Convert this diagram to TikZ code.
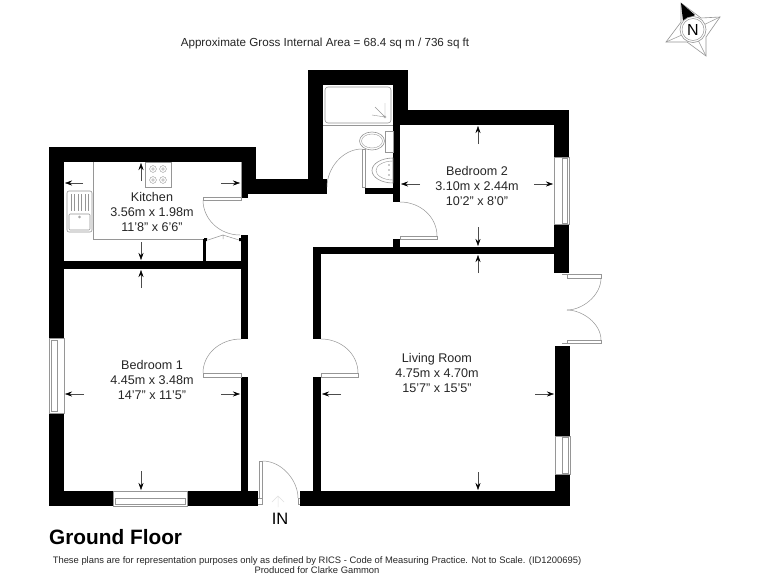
\documentclass[tikz,border=0pt]{standalone}
\usepackage{fontspec}
\setmainfont{Liberation Sans}
\usetikzlibrary{arrows.meta}
\definecolor{planline}{RGB}{150,150,150}
\tikzset{
  wall/.style={fill=black, draw=none},
  fitting/.style={draw=planline, line width=0.6pt},
  swing/.style={draw=planline, line width=0.5pt},
  leaf/.style={draw=planline, fill=white, line width=0.6pt},
  dimline/.style={draw=black!70, line width=0.4pt, -{Stealth[length=7pt,width=5pt,black]}},
  roomlabel/.style={align=center, font=\fontsize{12.6}{15.4}\selectfont, text=black!85, inner sep=0pt},
  noteline/.style={font=\fontsize{9.4}{11}\selectfont, text=black!85, inner sep=0pt}
}
\begin{document}
\begin{tikzpicture}[x=1pt, y=-1pt]
\useasboundingbox[fill=white] (0,0) rectangle (768,576);
% walls
\foreach \xa/\ya/\xb/\yb in {49/147/256/162, 49/147/64/338, 49/413/64/506, 49/491/113/506, 187/491/258/506, 300/491/570/506,
  64/261/248/269, 241/147/256/194, 241/194/248/198, 241/179/327/194, 241/235/248/339, 241/377/248/491, 203/239/206/261,
  308/70/323/194, 308/70/408/85, 393/70/408/125, 393/110/569/125, 554/110/569/157, 554/224/569/273,
  365/188/400/194, 393/110/400/202, 393/239/400/247, 313/247/554/254, 313/247/321/339, 313/377/321/491,
  555/346/570/436, 555/474/570/506}
  \fill[wall] (\xa,\ya) rectangle (\xb,\yb);
% windows
\draw[fitting] (554,157) rectangle (569,224);
\draw[fitting] (562,158) rectangle (567,223);
\draw[fitting] (555,436) rectangle (570,474);
\draw[fitting] (562,437) rectangle (568,473);
\draw[fitting] (49,338) rectangle (64,413);
\draw[fitting] (51,340) rectangle (57,411);
\draw[fitting] (113,491) rectangle (187,506);
\draw[fitting] (115,498) rectangle (185,504);
% kitchen
\draw[fitting] (93,162) -- (93,239) -- (203,239);
\draw[fitting] (241,162) -- (241,197);
\draw[fitting] (145,162) rectangle (171,187);
\foreach \cx/\cy in {153/169, 163/169, 153/180, 163/180} {
  \draw[fitting, line width=0.4pt] (\cx,\cy) circle (3.4pt);
  \draw[fitting, line width=0.4pt] (\cx,\cy) circle (1.4pt);
}
\draw[fitting, rounded corners=2pt] (67,191) rectangle (92,232);
\draw[fitting, rounded corners=1pt] (69,214) rectangle (90,230);
\foreach \lx in {71,74.5,78,81.5,85,88.5}
  \draw[fitting, line width=0.4pt] (\lx,194) -- (\lx,211);
\draw[fitting, line width=0.4pt] (79.5,217) circle (1pt);
% bathroom
\draw[fitting, rounded corners=3pt] (325,87) rectangle (391,123);
\draw[fitting] (323,125) -- (393,125);
\draw[fitting, line width=0.4pt] (375,107) -- (385,117) (385,103) -- (385,117) -- (372,115);
\draw[fitting, line width=0.4pt] (385,117) circle (1.2pt);
\draw[leaf] (385,131) rectangle (393,152);
\draw[leaf] (372,141) ellipse (12.5pt and 9pt);
\draw[fitting, line width=0.4pt] (372,141) ellipse (10.5pt and 7pt);
\draw[fitting] (393,158) arc (90:270:21pt and 12.5pt) -- cycle;
\draw[fitting, line width=0.4pt] (393,161) arc (90:270:17pt and 9.5pt);
\foreach \cy in {165,170,175}
  \fill[planline] (389,\cy) circle (0.9pt);
% doors, each a leaf and its swing
\draw[leaf] (203,197.7) rectangle (241,200.5);
\draw[swing] (203,200) .. controls (203,219.3) and (219.6,235) .. (240,235);
\draw[leaf] (362,149) rectangle (365.5,187);
\draw[swing] (362,149) .. controls (342.7,149) and (327,168) .. (327,187);
\draw[leaf] (400,236) rectangle (437,239);
\draw[swing] (400,202) .. controls (420.4,202) and (437,217) .. (437,236);
\draw[leaf] (203,373.5) rectangle (241,377);
\draw[swing] (241,339) .. controls (220,339) and (203,354) .. (203,373);
\draw[leaf] (321,373.5) rectangle (358,377);
\draw[swing] (321,339) .. controls (341.4,339) and (358,354) .. (358,373);
\draw[leaf] (259.5,461) rectangle (262.5,498);
\draw[swing] (262.5,461) .. controls (282,461) and (298,480.6) .. (298,498);
\draw[swing] (258,498) -- (262,498) -- (262,504) -- (258,504) (298,498) -- (300,498) (298,504) -- (300,504) (298,498) -- (298,504);
\draw[black!12, line width=0.5pt] (278,507) -- (278,497) (272,502) -- (278,496) -- (284,502);
\draw[leaf] (567,274) rectangle (601,278);
\draw[swing] (601,278) .. controls (601,295.7) and (582.2,310) .. (567,310);
\draw[leaf] (567,340) rectangle (601,343.5);
\draw[swing] (601,340) .. controls (601,323.4) and (582.2,310) .. (567,310);
\draw[swing] (562,274) -- (567,274) (562,343.5) -- (567,343.5);
% cupboard doors
\draw[swing] (208,240) -- (223,235) -- (239,240) (223,235) -- (223,239);
\fill[black] (204,238) rectangle (207,241) (239,238) rectangle (241,241);
% dimension arrows
\foreach \xa/\ya/\xb/\yb in {83/183/65/183, 221/183/240/183, 141/181/141/163, 141/242/141/260, 141/288/141/270,
  84/394/65/394, 141/471/141/490, 221/394/240/394,
  478/144/478/126, 478/227/478/246, 420/184/401/184, 534/184/553/184,
  478/273/478/255, 341/394/322/394, 535/394/554/394, 478/472/478/490}
  \draw[dimline] (\xa,\ya) -- (\xb,\yb);
% compass
\draw[draw=planline, line join=miter, line width=0.6pt] (681,3) -- (701,18) -- (720,17) -- (706,37) -- (706,56) -- (687,42) -- (666,42) -- (681,22) -- cycle;
\draw[swing] (720,17) -- (693,30) -- (706,56) (693,30) -- (666,42);
\fill[black] (681,3) -- (695,15) -- (683,21) -- cycle;
\draw[draw=planline, fill=white, line width=0.6pt] (693,29.5) circle (13pt);
\draw[swing] (693,29.5) circle (11pt);
\node[inner sep=0pt, font=\fontsize{16}{16}\selectfont] (north) at (693,29.5) {N};
% texts
\node[noteline, font=\fontsize{11.65}{12}\selectfont] (area) at (325,43) {Approximate Gross Internal Area = 68.4 sq m / 736 sq ft};
\node[roomlabel] (kitchen) at (152,212) {Kitchen\\3.56m x 1.98m\\11'8" x 6'6"};
\node[roomlabel] (bedone) at (152,380) {Bedroom 1\\4.45m x 3.48m\\14'7" x 11'5"};
\node[roomlabel] (bedtwo) at (477,186) {Bedroom 2\\3.10m x 2.44m\\10'2" x 8'0"};
\node[roomlabel] (living) at (437,373) {Living Room\\4.75m x 4.70m\\15'7" x 15'5"};
\node[inner sep=0pt, font=\fontsize{16.5}{17}\selectfont] (entry) at (280,519) {IN};
\node[inner sep=0pt, anchor=west, font=\bfseries\fontsize{20.8}{21}\selectfont] (floor) at (49,537) {Ground Floor};
\node[noteline] (disclaimer) at (317,561) {These plans are for representation purposes only as defined by RICS - Code of Measuring Practice. Not to Scale. (ID1200695)};
\node[noteline] (produced) at (317,570.5) {Produced for Clarke Gammon};
\end{tikzpicture}
\end{document}
